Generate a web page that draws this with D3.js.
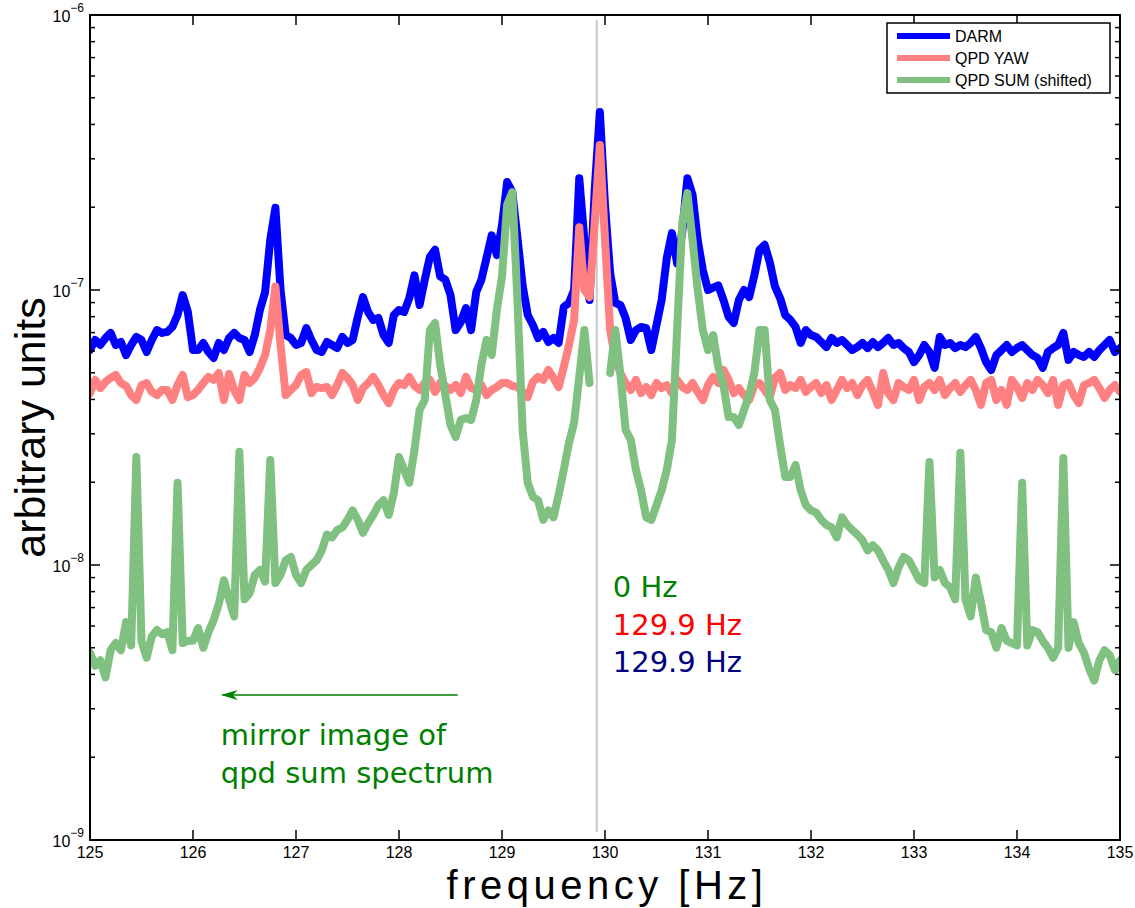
<!DOCTYPE html>
<html>
<head>
<meta charset="utf-8">
<script src="https://cdn.jsdelivr.net/npm/d3@7"></script>
<style>
  body { margin: 0; background: #fff; }
  svg { display: block; font-family: "Liberation Sans", Arial, Helvetica, sans-serif; }
</style>
</head>
<body>
<div id="chart"></div>
<script>
// spectrum bins: 125 Hz .. 135 Hz, 0.05 Hz apart
const freqStart = 125;
const freqStep = 0.05;

// values in units of 1e-8 (arbitrary units)
const valueUnit = 1e-8;

const darm = [
  6.05, 6.58, 6.31, 6.69, 6.98, 6.31, 6.47, 5.80, 6.31, 6.75,
  6.58, 5.95, 6.58, 7.15, 6.98, 7.04, 7.34, 8.11, 9.59, 8.32,
  6.05, 6.05, 6.42, 5.95, 5.66, 6.42, 6.05, 6.69, 6.98, 6.69,
  6.58, 5.95, 6.86, 8.46, 9.83, 15.2, 19.9, 10.0, 6.86, 6.69,
  6.31, 6.42, 7.27, 6.58, 6.05, 5.95, 6.47, 6.31, 6.15, 6.75,
  6.42, 6.58, 7.98, 9.43, 8.32, 7.78, 7.91, 6.86, 6.42, 8.11,
  8.46, 8.32, 9.35, 11.3, 8.82, 10.9, 13.2, 14.0, 11.2, 10.9,
  9.59, 7.15, 7.65, 8.60, 7.15, 9.83, 10.9, 13.1, 15.8, 13.4,
  17.2, 24.7, 22.7, 15.5, 10.4, 8.11, 7.46, 6.69, 7.04, 6.47,
  6.69, 6.42, 8.68, 8.97, 10.0, 25.5, 15.2, 9.20, 23.1, 44.4,
  20.4, 11.5, 8.97, 8.82, 7.91, 6.58, 7.15, 7.34, 7.27, 6.05,
  7.46, 9.20, 13.1, 16.1, 12.5, 16.3, 25.5, 22.2, 15.2, 11.8,
  10.0, 10.2, 10.4, 9.20, 7.98, 7.59, 9.20, 10.0, 9.43, 11.3,
  14.0, 14.6, 12.6, 10.3, 9.35, 8.11, 7.78, 7.34, 6.42, 7.15,
  6.86, 6.75, 6.47, 6.20, 6.69, 6.42, 6.58, 6.31, 6.05, 6.20,
  6.42, 6.15, 6.47, 6.20, 6.42, 6.69, 6.31, 6.42, 6.15, 5.95,
  5.47, 5.80, 6.31, 5.95, 5.21, 6.75, 6.31, 6.42, 6.15, 6.31,
  6.20, 6.42, 6.75, 6.15, 5.47, 5.12, 5.80, 6.05, 6.31, 5.95,
  6.15, 6.31, 6.05, 5.80, 5.66, 5.21, 5.95, 6.15, 6.31, 6.98,
  5.57, 5.95, 5.80, 5.71, 5.95, 5.71, 6.05, 6.31, 6.58, 5.95,
  6.15
];

const qpdYaw = [
  4.22, 4.71, 4.40, 4.63, 4.79, 4.91, 4.59, 4.48, 4.15, 3.98,
  4.51, 4.59, 4.26, 4.15, 4.33, 4.33, 3.98, 4.51, 4.91, 4.08,
  4.15, 4.33, 4.59, 4.83, 4.71, 4.99, 3.98, 4.95, 4.33, 3.98,
  4.91, 4.59, 4.79, 5.21, 5.80, 7.15, 10.3, 6.31, 4.15, 4.33,
  4.51, 4.91, 5.03, 4.22, 4.44, 4.40, 4.44, 4.15, 4.51, 4.99,
  4.79, 4.51, 3.98, 4.40, 4.59, 4.83, 4.51, 4.15, 3.88, 4.33,
  4.59, 4.51, 4.83, 4.48, 4.33, 4.59, 4.71, 4.26, 4.59, 4.48,
  4.33, 4.51, 4.22, 4.83, 4.40, 4.33, 4.51, 4.15, 4.33, 4.44,
  4.59, 4.59, 4.48, 4.44, 4.26, 4.08, 4.63, 4.83, 4.71, 5.12,
  4.79, 4.44, 5.25, 6.31, 7.78, 16.9, 10.0, 9.43, 17.5, 33.7,
  15.2, 7.15, 5.57, 4.99, 4.59, 4.33, 4.71, 4.22, 4.44, 4.15,
  4.59, 4.40, 4.51, 4.22, 4.71, 4.44, 4.33, 4.59, 4.26, 3.98,
  4.51, 4.83, 4.59, 5.12, 4.71, 4.22, 4.40, 4.15, 3.98, 4.51,
  4.59, 4.33, 4.08, 4.79, 4.99, 4.33, 4.51, 4.40, 4.71, 4.26,
  4.44, 4.59, 4.22, 4.51, 3.98, 4.33, 4.71, 4.40, 4.59, 4.15,
  4.51, 4.71, 4.26, 3.82, 4.99, 4.22, 3.98, 4.59, 4.44, 4.33,
  4.71, 3.98, 4.44, 4.59, 4.33, 4.71, 4.15, 4.40, 4.59, 4.26,
  4.51, 4.71, 4.33, 3.82, 4.59, 4.71, 3.98, 4.33, 3.82, 4.71,
  4.44, 4.05, 4.59, 4.33, 4.71, 4.51, 4.22, 4.71, 3.82, 4.51,
  4.59, 4.15, 3.88, 4.51, 4.59, 4.71, 4.40, 4.05, 4.33, 4.51,
  4.26
];

// mirrored qpd sum spectrum, no data right around the mirror point
const qpdSum = [
  0.48, 0.43, 0.45, 0.39, 0.49, 0.52, 0.49, 0.62, 0.51, 2.47,
  0.53, 0.46, 0.55, 0.58, 0.56, 0.57, 0.49, 1.99, 0.52, 0.53,
  0.53, 0.59, 0.50, 0.57, 0.63, 0.72, 0.88, 0.75, 0.65, 2.58,
  0.75, 0.79, 0.92, 0.96, 0.87, 2.41, 0.86, 0.92, 1.04, 1.07,
  0.92, 0.86, 0.96, 1.00, 1.04, 1.13, 1.29, 1.26, 1.34, 1.37,
  1.46, 1.58, 1.46, 1.31, 1.42, 1.52, 1.65, 1.72, 1.52, 1.83,
  2.47, 2.22, 1.99, 2.62, 3.66, 3.98, 7.15, 7.59, 5.34, 4.15,
  3.23, 2.92, 3.37, 3.42, 3.37, 3.98, 5.34, 6.58, 5.80, 8.46,
  11.2, 20.4, 22.7, 9.20, 3.10, 1.99, 1.77, 1.72, 1.46, 1.58,
  1.49, 1.80, 2.22, 2.78, 3.29, 4.83, 7.15, 4.59, null, null,
  null, 4.99, 7.15, 4.91, 3.10, 2.85, 2.22, 1.87, 1.49, 1.46,
  1.65, 1.87, 2.22, 2.85, 7.15, 17.5, 22.5, 15.2, 10.0, 7.15,
  6.05, 6.86, 5.25, 4.51, 3.45, 3.45, 3.23, 3.66, 4.15, 4.99,
  7.15, 7.15, 3.98, 3.66, 2.73, 2.09, 2.09, 2.31, 1.87, 1.65,
  1.58, 1.55, 1.46, 1.40, 1.37, 1.26, 1.49, 1.40, 1.34, 1.29,
  1.23, 1.13, 1.18, 1.13, 1.04, 0.96, 0.86, 0.98, 1.07, 1.04,
  0.96, 0.88, 0.86, 2.37, 0.90, 0.96, 0.86, 0.83, 0.75, 2.56,
  0.75, 0.65, 0.90, 0.73, 0.58, 0.57, 0.50, 0.59, 0.53, 0.52,
  0.51, 1.99, 0.51, 0.58, 0.57, 0.53, 0.50, 0.46, 0.50, 2.45,
  0.50, 0.62, 0.52, 0.48, 0.42, 0.38, 0.45, 0.49, 0.47, 0.415,
  0.45
];

const seriesNames = ['DARM', 'QPD YAW', 'QPD SUM (shifted)'];
const seriesColors = ['#0000ff', '#ff8080', '#80c080'];

const xTicks = [125, 126, 127, 128, 129, 130, 131, 132, 133, 134, 135];
const yDecades = [-9, -8, -7, -6];

// line at the mirror frequency and the notes next to it
const mirrorFreq = 129.92;
const freqNotes = ['0 Hz', '129.9 Hz', '129.9 Hz'];
const freqNoteColors = ['#008000', '#ff0000', '#000080'];
const arrowFreqs = [128.57, 126.27];
const mirrorNote = ['mirror image of', 'qpd sum spectrum'];

function draw() {
  const width = 1135;
  const height = 908;
  const margin = { left: 90, top: 15, right: 15, bottom: 68 };
  const plotW = width - margin.left - margin.right;
  const plotH = height - margin.top - margin.bottom;

  const svg = d3.select('#chart').append('svg')
    .attr('width', width)
    .attr('height', height);

  const x = d3.scaleLinear().domain([125, 135]).range([margin.left, margin.left + plotW]);
  const y = d3.scaleLog().domain([1e-9, 1e-6]).range([margin.top + plotH, margin.top]);

  svg.append('clipPath').attr('id', 'plotclip')
    .append('rect')
    .attr('x', margin.left).attr('y', margin.top)
    .attr('width', plotW).attr('height', plotH);

  // grey marker line (under the traces)
  svg.append('line')
    .attr('x1', x(mirrorFreq)).attr('x2', x(mirrorFreq))
    .attr('y1', margin.top + 5).attr('y2', margin.top + plotH - 8)
    .attr('stroke', '#c8c8c8')
    .attr('stroke-width', 2);

  // ===== traces =====
  const toPoints = vals => vals.map((v, i) => ({
    f: freqStart + i * freqStep,
    v: v == null ? null : v * valueUnit
  }));

  const line = d3.line()
    .defined(d => d.v != null)
    .x(d => x(d.f))
    .y(d => y(d.v));

  const traces = svg.append('g').attr('clip-path', 'url(#plotclip)');
  [darm, qpdYaw, qpdSum].forEach((vals, k) => {
    traces.append('path')
      .datum(toPoints(vals))
      .attr('d', line)
      .attr('fill', 'none')
      .attr('stroke', seriesColors[k])
      .attr('stroke-width', 8)
      .attr('stroke-linejoin', 'round')
      .attr('stroke-linecap', 'round');
  });

  // ===== axes =====
  const axisG = svg.append('g').attr('stroke', '#000');

  // x ticks, bottom and top, pointing inward
  xTicks.forEach(t => {
    axisG.append('line')
      .attr('x1', x(t)).attr('x2', x(t))
      .attr('y1', margin.top + plotH).attr('y2', margin.top + plotH - 10)
      .attr('stroke-width', 1.5);
    axisG.append('line')
      .attr('x1', x(t)).attr('x2', x(t))
      .attr('y1', margin.top).attr('y2', margin.top + 10)
      .attr('stroke-width', 1.5);
  });

  // y ticks: decades long, 2..9 short, left and right
  const yTickVals = [];
  yDecades.forEach(e => {
    yTickVals.push({ v: Math.pow(10, e), major: true });
    if (e < -6) {
      for (let m = 2; m <= 9; m++) yTickVals.push({ v: m * Math.pow(10, e), major: false });
    }
  });
  yTickVals.forEach(t => {
    const len = t.major ? 10 : 5;
    axisG.append('line')
      .attr('x1', margin.left).attr('x2', margin.left + len)
      .attr('y1', y(t.v)).attr('y2', y(t.v))
      .attr('stroke-width', 1.5);
    axisG.append('line')
      .attr('x1', margin.left + plotW).attr('x2', margin.left + plotW - len)
      .attr('y1', y(t.v)).attr('y2', y(t.v))
      .attr('stroke-width', 1.5);
  });

  // frame
  svg.append('rect')
    .attr('x', margin.left).attr('y', margin.top)
    .attr('width', plotW).attr('height', plotH)
    .attr('fill', 'none')
    .attr('stroke', '#000')
    .attr('stroke-width', 2);

  // tick labels
  svg.append('g').selectAll('text')
    .data(xTicks)
    .enter().append('text')
    .attr('x', d => x(d))
    .attr('y', margin.top + plotH + 18)
    .attr('text-anchor', 'middle')
    .attr('font-size', 16)
    .attr('fill', '#000')
    .text(d => d);

  const yLab = svg.append('g').selectAll('text')
    .data(yDecades)
    .enter().append('text')
    .attr('x', margin.left - 6)
    .attr('y', d => y(Math.pow(10, d)) + 7)
    .attr('text-anchor', 'end')
    .attr('font-size', 16)
    .attr('fill', '#000');
  yLab.append('tspan').text('10');
  yLab.append('tspan')
    .attr('dy', -10)
    .attr('font-size', 12)
    .text(d => '\u2212' + Math.abs(d));

  // axis titles
  svg.append('text')
    .attr('x', margin.left + plotW / 2 + 2)
    .attr('y', height - 9)
    .attr('text-anchor', 'middle')
    .attr('font-size', 40)
    .attr('letter-spacing', 4.5)
    .attr('fill', '#000')
    .text('frequency [Hz]');

  svg.append('text')
    .attr('transform', `translate(45,${margin.top + plotH / 2}) rotate(-90)`)
    .attr('text-anchor', 'middle')
    .attr('font-size', 43)
    .attr('fill', '#000')
    .text('arbitrary units');

  // ===== notes =====
  const noteFont = '"DejaVu Sans", Verdana, sans-serif';
  freqNotes.forEach((txt, i) => {
    svg.append('text')
      .attr('x', x(mirrorFreq) + 16)
      .attr('y', 597 + i * 37.5)
      .attr('font-family', noteFont)
      .attr('font-size', 29)
      .attr('fill', freqNoteColors[i])
      .text(txt);
  });

  // arrow pointing to lower frequencies
  const arrowY = 695;
  const ax0 = x(arrowFreqs[0]);
  const ax1 = x(arrowFreqs[1]);
  svg.append('line')
    .attr('x1', ax0).attr('x2', ax1 + 2)
    .attr('y1', arrowY).attr('y2', arrowY)
    .attr('stroke', '#008000')
    .attr('stroke-width', 1.5);
  svg.append('path')
    .attr('d', `M${ax1},${arrowY} L${ax1 + 17},${arrowY - 5} L${ax1 + 12},${arrowY} L${ax1 + 17},${arrowY + 5} Z`)
    .attr('fill', '#008000');

  mirrorNote.forEach((txt, i) => {
    svg.append('text')
      .attr('x', ax1)
      .attr('y', 745 + i * 37.5)
      .attr('font-family', noteFont)
      .attr('font-size', 29)
      .attr('fill', '#008000')
      .text(txt);
  });

  // ===== legend =====
  const lg = svg.append('g').attr('transform', 'translate(887,23)');
  lg.append('rect')
    .attr('width', 223).attr('height', 70)
    .attr('fill', '#fff')
    .attr('stroke', '#000')
    .attr('stroke-width', 1.5);
  seriesNames.forEach((name, i) => {
    const ly = 13 + i * 22;
    lg.append('line')
      .attr('x1', 10).attr('x2', 63)
      .attr('y1', ly).attr('y2', ly)
      .attr('stroke', seriesColors[i])
      .attr('stroke-width', 6);
    lg.append('text')
      .attr('x', 68)
      .attr('y', ly + 6)
      .attr('font-size', 16)
      .attr('fill', '#000')
      .text(name);
  });
}

draw();
</script>
</body>
</html>
